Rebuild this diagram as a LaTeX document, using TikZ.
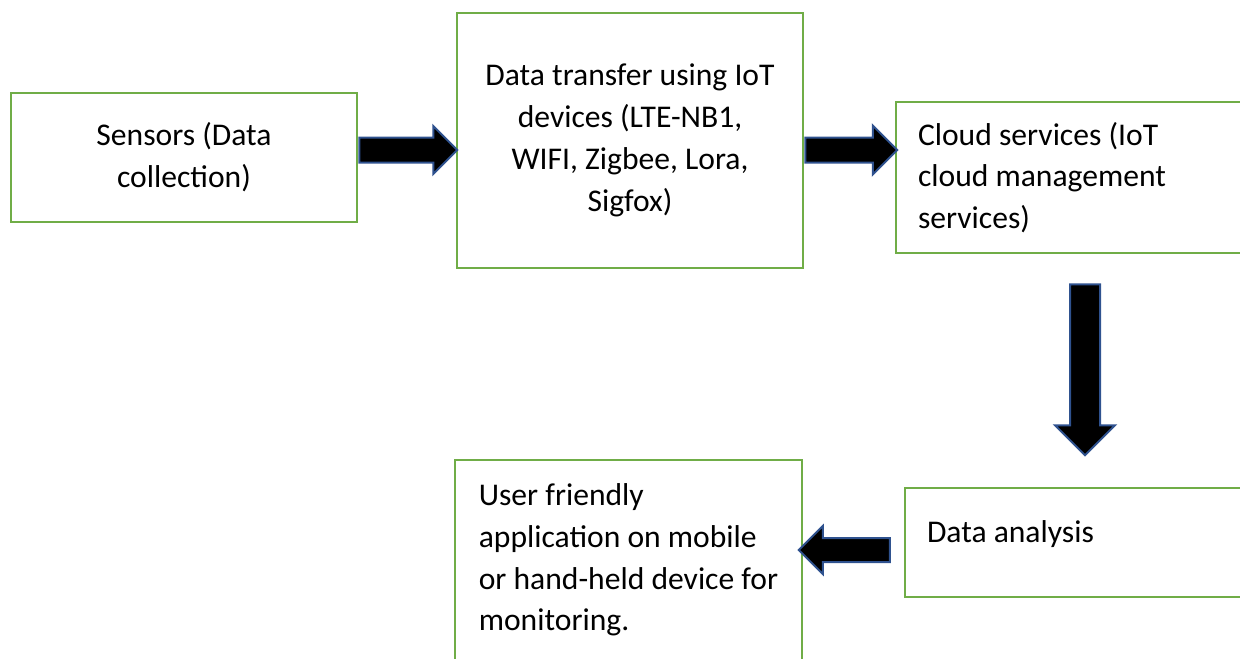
\documentclass[tikz,border=0pt]{standalone}
\usepackage{fontspec}
\setmainfont{Carlito}
\usepackage{xcolor}
\usetikzlibrary{shapes.arrows, positioning}
\definecolor{boxgreen}{HTML}{70AD47}
\definecolor{arrowblue}{HTML}{2F528F}
\tikzset{
  box/.style={rectangle, draw=boxgreen, line width=1.25pt, font=\fontsize{15.8}{20.9}\selectfont},
  blockarrow/.style={single arrow, draw=arrowblue, fill=black, line width=1pt, inner sep=5.75pt,
    single arrow tip angle=90, single arrow head extend=5.75pt}
}

\begin{document}
\begin{tikzpicture}[x=0.5pt,y=-0.5pt]
  \clip (0,0) rectangle (1240,658);
  \node[box, align=center, minimum width=173pt, minimum height=64.5pt] (sens) at (184,157.5) {Sensors (Data\\ collection)};
  \node[box, align=center, minimum width=173pt, minimum height=127.5pt] (trans) at (630,140.5) {Data transfer using IoT\\ devices (LTE-NB1,\\ WIFI, Zigbee, Lora,\\ Sigfox)};
  \node[box, align=flush left, text width=167pt, inner xsep=11pt, minimum width=189pt, minimum height=75.5pt] (cloud) at (1085,177.5) {Cloud services (IoT\\ cloud management\\ services)};
  \node[box, align=flush left, text width=158pt, inner xsep=11pt, text depth=11pt, minimum width=180pt, minimum height=54.5pt] (anal) at (1085,542.5) {Data analysis};
  \node[box, align=left, minimum width=173.5pt, minimum height=100pt] (user) at (628.5,560) {User friendly\\ application on mobile\\ or hand-held device for\\ monitoring.};

  \node[blockarrow, minimum height=49pt, anchor=tail] (arr1) at ([yshift=3.75pt]sens.east) {};
  \node[blockarrow, minimum height=46pt, anchor=tail, single arrow head extend=6pt] (arr2) at ([yshift=-4.75pt]trans.east) {};
  \node[blockarrow, rotate=-90, minimum height=85.5pt, inner sep=7pt, single arrow head extend=7.5pt, anchor=tail] (arr3) at ([yshift=-14.5pt]cloud.south) {};
  \node[blockarrow, rotate=180, minimum height=45.5pt, inner sep=5.5pt, single arrow head extend=6pt, anchor=tail] (arr4) at ([xshift=-6.5pt,yshift=-3.75pt]anal.west) {};
\end{tikzpicture}
\end{document}
